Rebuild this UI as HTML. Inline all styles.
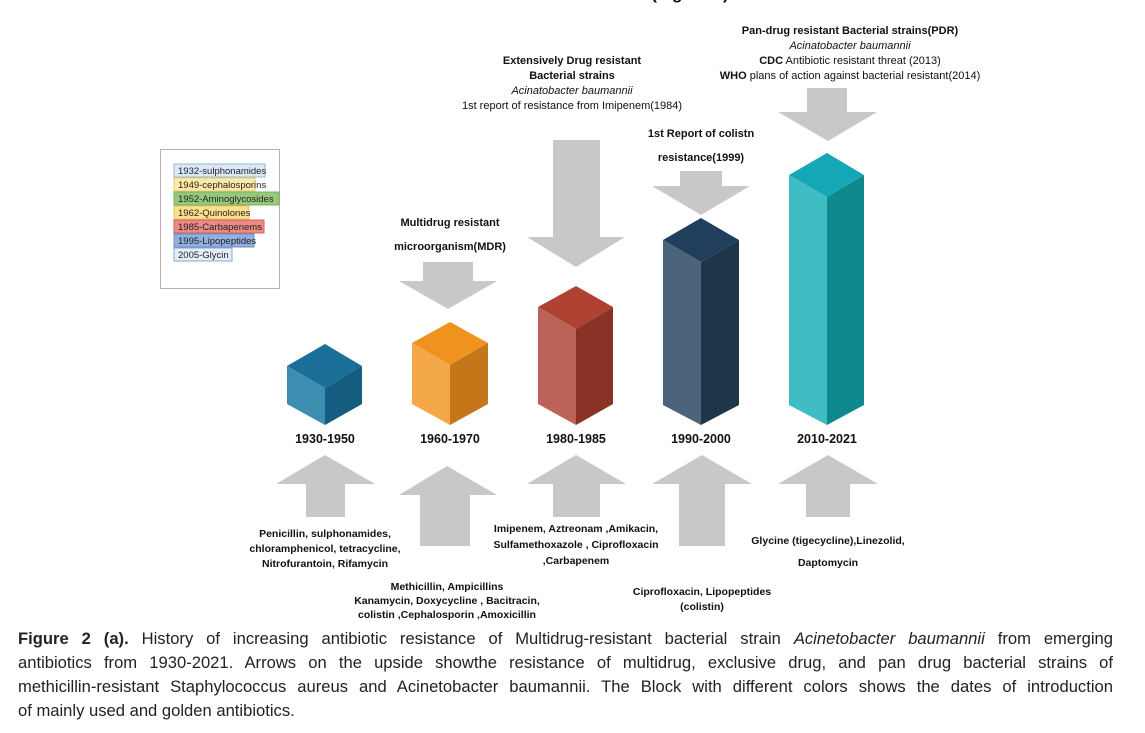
<!DOCTYPE html>
<html><head><meta charset="utf-8"><style>
body{margin:0;background:#fff;width:1145px;height:733px;overflow:hidden;position:relative;font-family:"Liberation Sans",sans-serif}
svg{position:absolute;left:0;top:0}
.cap{position:absolute;left:18px;top:627px;width:1095px;font-size:16.6px;line-height:24px;color:#222}
.cap div{text-align:justify;text-align-last:justify;white-space:nowrap;overflow:visible}
.cap div.l{text-align-last:left}
</style></head><body>
<svg width="1145" height="733" viewBox="0 0 1145 733" font-family="Liberation Sans, sans-serif">
<text x="690" y="-1" font-size="17" font-weight="bold" text-anchor="middle" fill="#111">(Figure 2)</text>
<rect x="160.5" y="149.5" width="119" height="139" fill="#fff" stroke="#c9a9a9"/>
<g font-size="9.5" fill="#222">
<rect x="174" y="164" width="91" height="13" fill="#dbe8f7" stroke="#9db6d6"/><text x="178" y="174">1932-sulphonamides</text>
<rect x="174" y="178" width="81" height="13" fill="#fde9a6" stroke="#e6cf7a"/><text x="178" y="188">1949-cephalosporins</text>
<rect x="174" y="192" width="105" height="13" fill="#96c97a" stroke="#7fae65"/><text x="178" y="202">1952-Aminoglycosides</text>
<rect x="174" y="206" width="75" height="13" fill="#fde08a" stroke="#e6c66a"/><text x="178" y="216">1962-Quinolones</text>
<rect x="174" y="220" width="90" height="13" fill="#ec8a84" stroke="#c96660"/><text x="178" y="230">1985-Carbapenems</text>
<rect x="174" y="234" width="80" height="13" fill="#8fb0e0" stroke="#6f90c0"/><text x="178" y="244">1995-Lipopeptides</text>
<rect x="174" y="248" width="58" height="13" fill="#e6eef9" stroke="#8fa6c6"/><text x="178" y="258">2005-Glycin</text>
</g>
<g fill="#c8c8c8">
<polygon points="423,262 473,262 473,281 497,281 448,309 399,281 423,281"/>
<polygon points="553,140 600,140 600,237 625,237 576,267 527,237 553,237"/>
<polygon points="680,171 722,171 722,186 750,186 701,215 652,186 680,186"/>
<polygon points="807,88 847,88 847,112 877,112 828,141 778,112 807,112"/>
<polygon points="325,455 375,484 345,484 345,517 306,517 306,484 276,484"/>
<polygon points="447,466 497,495 470,495 470,546 420,546 420,495 399,495"/>
<polygon points="576,455 626,484 600,484 600,517 553,517 553,484 527,484"/>
<polygon points="702,455 752,484 725,484 725,546 679,546 679,484 652,484"/>
<polygon points="828,455 878,484 850,484 850,517 806,517 806,484 778,484"/>
</g>
<g>
<polygon points="325,344 362,366 325,388 287,366" fill="#1a6f98"/>
<polygon points="287,366 325,388 325,425 287,404" fill="#3d8db0"/>
<polygon points="325,388 362,366 362,404 325,425" fill="#145c80"/>
<polygon points="450,322 488,343 450,365 412,343" fill="#f0921e"/>
<polygon points="412,343 450,365 450,425 412,404" fill="#f4a84a"/>
<polygon points="450,365 488,343 488,404 450,425" fill="#c57619"/>
<polygon points="576,286 613,307 576,329 538,307" fill="#b04233"/>
<polygon points="538,307 576,329 576,425 538,404" fill="#bb6358"/>
<polygon points="576,329 613,307 613,404 576,425" fill="#8b3227"/>
<polygon points="701,218 739,240 701,262 663,240" fill="#213f5c"/>
<polygon points="663,240 701,262 701,425 663,405" fill="#4b6479"/>
<polygon points="701,262 739,240 739,405 701,425" fill="#1e364a"/>
<polygon points="827,153 864,175 827,197 789,175" fill="#14a7b5"/>
<polygon points="789,175 827,197 827,425 789,405" fill="#40bcc4"/>
<polygon points="827,197 864,175 864,405 827,425" fill="#10898e"/>
</g>
<g font-size="12.5" font-weight="bold" text-anchor="middle" fill="#111">
<text x="325" y="443">1930-1950</text><text x="450" y="443">1960-1970</text><text x="576" y="443">1980-1985</text><text x="701" y="443">1990-2000</text><text x="827" y="443">2010-2021</text>
</g>
<g font-size="11" text-anchor="middle" fill="#111">
<text x="572" y="64" font-weight="bold">Extensively Drug resistant</text>
<text x="572" y="79" font-weight="bold">Bacterial strains</text>
<text x="572" y="94" font-style="italic">Acinatobacter baumannii</text>
<text x="572" y="109">1st report of resistance from Imipenem(1984)</text>
<text x="850" y="34" font-weight="bold">Pan-drug resistant Bacterial strains(PDR)</text>
<text x="850" y="49" font-style="italic">Acinatobacter baumannii</text>
<text x="850" y="64"><tspan font-weight="bold">CDC</tspan> Antibiotic resistant threat (2013)</text>
<text x="850" y="79"><tspan font-weight="bold">WHO</tspan> plans of action against bacterial resistant(2014)</text>
<text x="701" y="137" font-weight="bold">1st Report of colistn</text>
<text x="701" y="161" font-weight="bold">resistance(1999)</text>
<text x="450" y="226" font-weight="bold">Multidrug resistant</text>
<text x="450" y="250" font-weight="bold">microorganism(MDR)</text>
</g>
<g font-size="10.5" text-anchor="middle" fill="#111" font-weight="bold">
<text x="325" y="537">Penicillin, sulphonamides,</text>
<text x="325" y="552">chloramphenicol, tetracycline,</text>
<text x="325" y="567">Nitrofurantoin, Rifamycin</text>
<text x="447" y="590">Methicillin, Ampicillins</text>
<text x="447" y="604">Kanamycin, Doxycycline , Bacitracin,</text>
<text x="447" y="618">colistin ,Cephalosporin ,Amoxicillin</text>
<text x="576" y="532">Imipenem, Aztreonam ,Amikacin,</text>
<text x="576" y="548">Sulfamethoxazole , Ciprofloxacin</text>
<text x="576" y="564">,Carbapenem</text>
<text x="702" y="595">Ciprofloxacin, Lipopeptides</text>
<text x="702" y="610">(colistin)</text>
<text x="828" y="544">Glycine (tigecycline),Linezolid,</text>
<text x="828" y="566">Daptomycin</text>
</g>
</svg>
<div class="cap">
<div><b>Figure 2 (a).</b> History of increasing antibiotic resistance of Multidrug-resistant bacterial strain <i>Acinetobacter baumannii</i> from emerging</div>
<div>antibiotics from 1930-2021. Arrows on the upside showthe resistance of multidrug, exclusive drug, and pan drug bacterial strains of</div>
<div>methicillin-resistant Staphylococcus aureus and Acinetobacter baumannii. The Block with different colors shows the dates of introduction</div>
<div class="l">of mainly used and golden antibiotics.</div>
</div>
</body></html>
